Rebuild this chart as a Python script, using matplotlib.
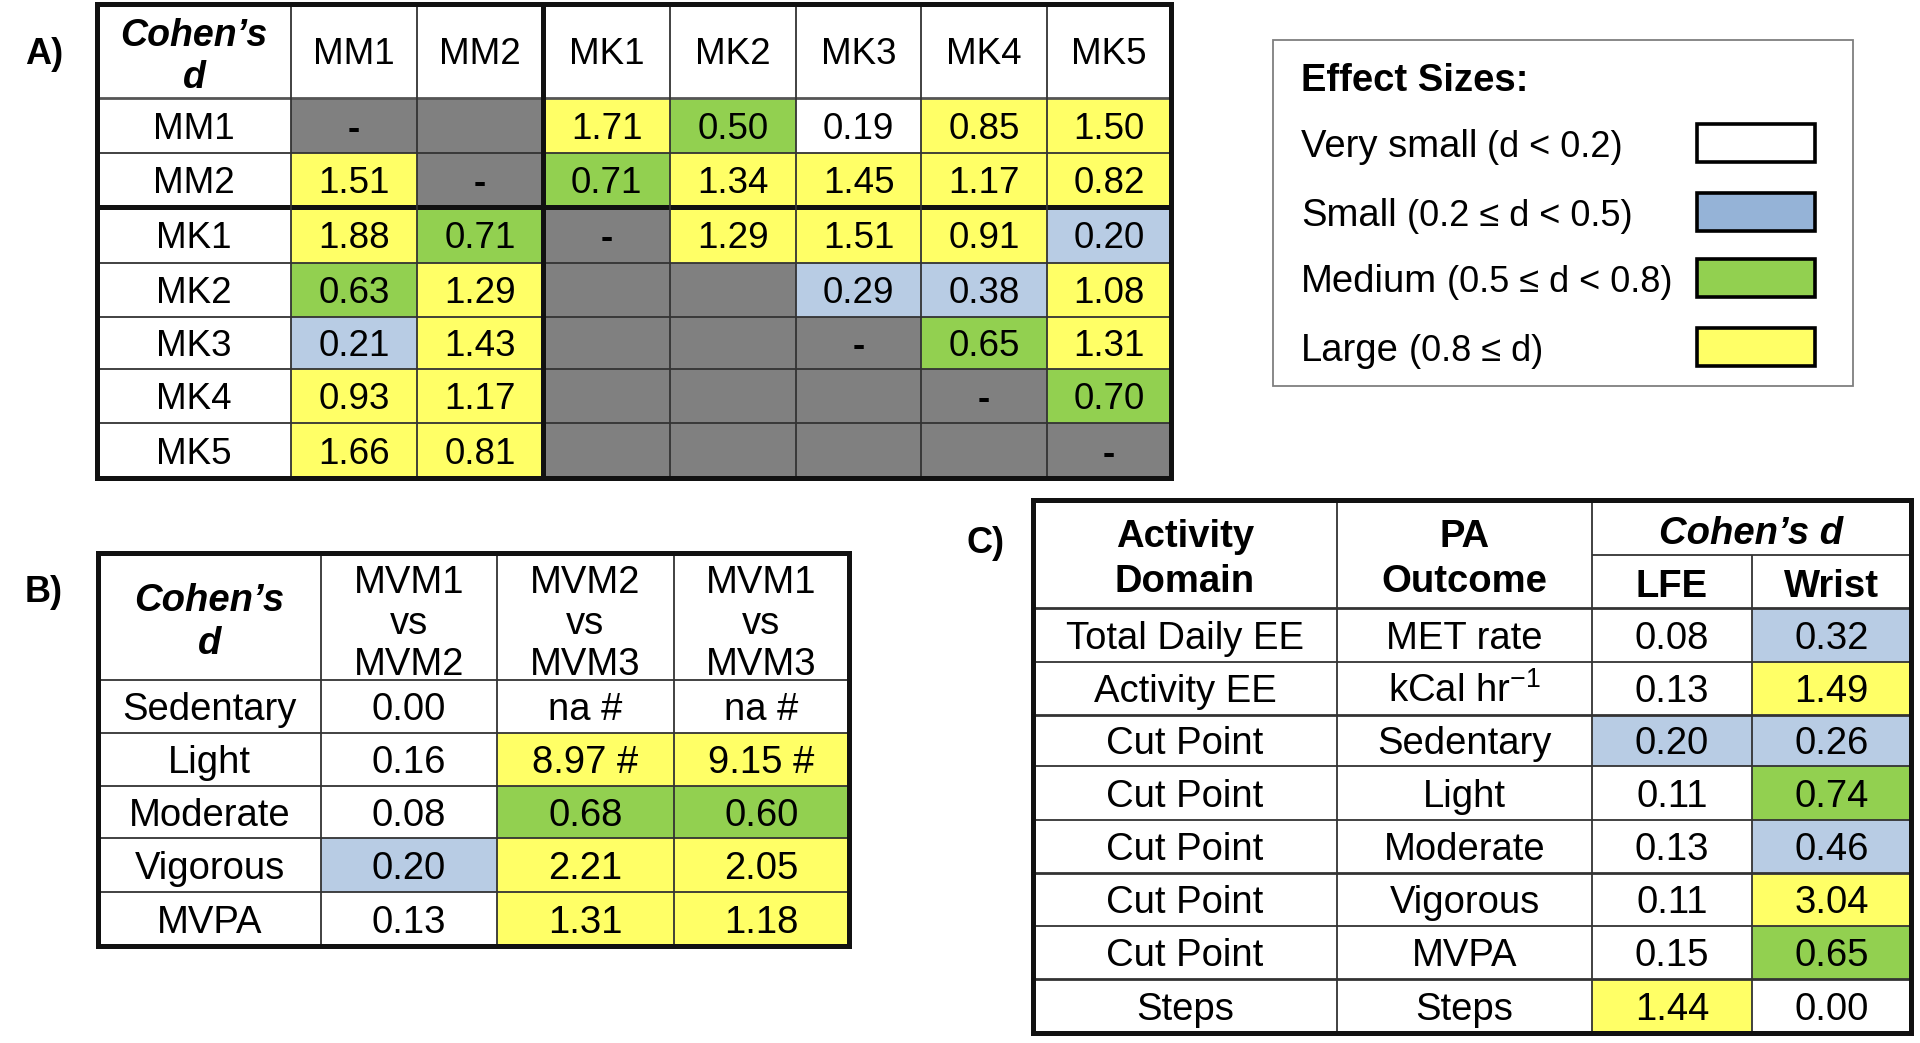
import matplotlib.pyplot as plt
from matplotlib.patches import Rectangle

plt.rcParams['font.family'] = ['Liberation Sans', 'DejaVu Sans']
plt.rcParams['mathtext.fontset'] = 'custom'
plt.rcParams['mathtext.rm'] = 'Liberation Sans'
plt.rcParams['mathtext.it'] = 'Liberation Sans:italic'
plt.rcParams['mathtext.bf'] = 'Liberation Sans:bold'

# ---- data ----
# A) pairwise Cohen's d between monitors (None = greyed out, '-' = diagonal)
a_names = ['MM1', 'MM2', 'MK1', 'MK2', 'MK3', 'MK4', 'MK5']
a_values = [
    ['-', None, '1.71', '0.50', '0.19', '0.85', '1.50'],
    ['1.51', '-', '0.71', '1.34', '1.45', '1.17', '0.82'],
    ['1.88', '0.71', '-', '1.29', '1.51', '0.91', '0.20'],
    ['0.63', '1.29', None, None, '0.29', '0.38', '1.08'],
    ['0.21', '1.43', None, None, '-', '0.65', '1.31'],
    ['0.93', '1.17', None, None, None, '-', '0.70'],
    ['1.66', '0.81', None, None, None, None, '-'],
]

# B) model comparisons
b_rows = ['Sedentary', 'Light', 'Moderate', 'Vigorous', 'MVPA']
b_cols = [['MVM1', 'vs', 'MVM2'], ['MVM2', 'vs', 'MVM3'], ['MVM1', 'vs', 'MVM3']]
b_values = [
    ['0.00', 'na #', 'na #'],
    ['0.16', '8.97 #', '9.15 #'],
    ['0.08', '0.68', '0.60'],
    ['0.20', '2.21', '2.05'],
    ['0.13', '1.31', '1.18'],
]

# C) LFE vs wrist
c_domain = ['Total Daily EE', 'Activity EE', 'Cut Point', 'Cut Point', 'Cut Point',
            'Cut Point', 'Cut Point', 'Steps']
c_outcome = ['MET rate', r'kCal hr$^{-1}$', 'Sedentary', 'Light', 'Moderate',
             'Vigorous', 'MVPA', 'Steps']
c_lfe = ['0.08', '0.13', '0.20', '0.11', '0.13', '0.11', '0.15', '1.44']
c_wrist = ['0.32', '1.49', '0.26', '0.74', '0.46', '3.04', '0.65', '0.00']

# legend
legend_names = ['Very small', 'Small', 'Medium', 'Large']
legend_ranges = ['(d < 0.2)', '(0.2 \u2264 d < 0.5)', '(0.5 \u2264 d < 0.8)', '(0.8 \u2264 d)']

# colours
YELLOW = '#FFFF66'
GREEN = '#92D050'
BLUE = '#B8CCE4'
GREY = '#808080'
legend_colours = ['white', '#95B3D7', GREEN, YELLOW]
LINE = '#333333'


def cell_colour(s):
    if s is None or s == '-':
        return GREY
    try:
        d = float(s.split()[0])
    except ValueError:
        return 'white'
    if d < 0.2:
        return 'white'
    if d < 0.5:
        return BLUE
    if d < 0.8:
        return GREEN
    return YELLOW


fig = plt.figure(figsize=(19.2, 10.43), dpi=100)
ax = fig.add_axes([0, 0, 1, 1])
ax.set_xlim(0, 1920)
ax.set_ylim(1043, 0)
ax.axis('off')


def put(x, y, s, size, **kw):
    # place text so that the cap height is centred on y
    em = size * 100 / 72
    ha = kw.pop('ha', 'center')
    return ax.text(x, y + 0.36 * em, s, fontsize=size, ha=ha, va='baseline', **kw)


def fill(x0, x1, y0, y1, c):
    ax.add_patch(Rectangle((x0, y0), x1 - x0, y1 - y0, facecolor=c, edgecolor='none', zorder=1))


def hline(y, x0, x1, lw, c=LINE):
    ax.plot([x0, x1], [y, y], color=c, lw=lw, solid_capstyle='butt', zorder=2)


def vline(x, y0, y1, lw, c=LINE):
    ax.plot([x, x], [y0, y1], color=c, lw=lw, solid_capstyle='butt', zorder=2)


def border(x0, x1, y0, y1, lw=3.6):
    ax.add_patch(Rectangle((x0, y0), x1 - x0, y1 - y0, fill=False, edgecolor='#111111',
                           lw=lw, joinstyle='miter', zorder=3))


# ---------------- table A ----------------
A_x = [97, 291, 417, 543, 670, 796, 921, 1047, 1171]
A_y = [4, 98, 153, 207, 263, 317, 369, 423, 478]
A_FS = 26.5

for i, row in enumerate(a_values):
    for j, v in enumerate(row):
        x0, x1 = A_x[j + 1], A_x[j + 2]
        y0, y1 = A_y[i + 1], A_y[i + 2]
        fill(x0, x1, y0, y1, cell_colour(v))
        if v == '-':
            put((x0 + x1) / 2, (y0 + y1) / 2, v, A_FS, fontweight='bold')
        elif v:
            put((x0 + x1) / 2, (y0 + y1) / 2, v, A_FS)

for k, name in enumerate(a_names):
    put((A_x[k + 1] + A_x[k + 2]) / 2, (A_y[0] + A_y[1]) / 2, name, A_FS)
    put((A_x[0] + A_x[1]) / 2, (A_y[k + 1] + A_y[k + 2]) / 2, name, A_FS)
put((A_x[0] + A_x[1]) / 2, 32, 'Cohen\u2019s', 27, fontweight='bold', style='italic')
put((A_x[0] + A_x[1]) / 2, 75, 'd', 27, fontweight='bold', style='italic')

for y in A_y[2:-1]:
    if y != 207:
        hline(y, A_x[0], A_x[-1], 1.3)
hline(A_y[1], A_x[0], A_x[-1], 2.0, '#555555')
hline(207, A_x[0], A_x[-1], 3.6, '#111111')
for x in A_x[1:-1]:
    if x != 543:
        vline(x, A_y[0], A_y[-1], 1.3)
vline(543, A_y[0], A_y[-1], 3.6, '#111111')
border(A_x[0], A_x[-1], A_y[0], A_y[-1])
put(25, 51, 'A)', 26, fontweight='bold', ha='left')

# ---------------- table B ----------------
B_x = [98, 321, 497, 674, 849]
B_y = [553, 680, 733, 786, 838, 892, 946]
B_FS = 27.5

for i, row in enumerate(b_values):
    y0, y1 = B_y[i + 1], B_y[i + 2]
    put((B_x[0] + B_x[1]) / 2, (y0 + y1) / 2, b_rows[i], B_FS)
    for j, v in enumerate(row):
        x0, x1 = B_x[j + 1], B_x[j + 2]
        fill(x0, x1, y0, y1, cell_colour(v))
        put((x0 + x1) / 2, (y0 + y1) / 2, v, B_FS)

for j, lines in enumerate(b_cols):
    xc = (B_x[j + 1] + B_x[j + 2]) / 2
    for k, s in enumerate(lines):
        put(xc, 579 + 41 * k, s, B_FS)
put((B_x[0] + B_x[1]) / 2, 597, 'Cohen\u2019s', B_FS, fontweight='bold', style='italic')
put((B_x[0] + B_x[1]) / 2, 640, 'd', B_FS, fontweight='bold', style='italic')

for y in B_y[1:-1]:
    hline(y, B_x[0], B_x[-1], 1.3)
for x in B_x[1:-1]:
    vline(x, B_y[0], B_y[-1], 1.3)
border(B_x[0], B_x[-1], B_y[0], B_y[-1])
put(25, 589, 'B)', 26, fontweight='bold', ha='left')

# ---------------- table C ----------------
C_x = [1033, 1337, 1592, 1752, 1911]
C_y = [500, 608, 662, 715, 766, 820, 873, 926, 979, 1033]
C_FS = 27.5

for i in range(len(c_domain)):
    y0, y1 = C_y[i + 1], C_y[i + 2]
    yc = (y0 + y1) / 2
    put((C_x[0] + C_x[1]) / 2, yc, c_domain[i], C_FS)
    put((C_x[1] + C_x[2]) / 2, yc, c_outcome[i], C_FS)
    for j, v in enumerate([c_lfe[i], c_wrist[i]]):
        x0, x1 = C_x[j + 2], C_x[j + 3]
        fill(x0, x1, y0, y1, cell_colour(v))
        put((x0 + x1) / 2, yc, v, C_FS)

put((C_x[0] + C_x[1]) / 2, 533, 'Activity', C_FS, fontweight='bold')
put((C_x[0] + C_x[1]) / 2, 578, 'Domain', C_FS, fontweight='bold')
put((C_x[1] + C_x[2]) / 2, 533, 'PA', C_FS, fontweight='bold')
put((C_x[1] + C_x[2]) / 2, 578, 'Outcome', C_FS, fontweight='bold')
put((C_x[2] + C_x[4]) / 2, 530, 'Cohen\u2019s d', C_FS, fontweight='bold', style='italic')
put((C_x[2] + C_x[3]) / 2, 583, 'LFE', C_FS, fontweight='bold')
put((C_x[3] + C_x[4]) / 2, 583, 'Wrist', C_FS, fontweight='bold')

hline(555, C_x[2], C_x[4], 1.3)
for y in C_y[1:-1]:
    hline(y, C_x[0], C_x[-1], 2.0 if y in (608, 715, 873, 979) else 1.3)
for x in C_x[1:-1]:
    vline(x, 555 if x == 1752 else C_y[0], C_y[-1], 1.3)
border(C_x[0], C_x[-1], C_y[0], C_y[-1])
put(966, 540, 'C)', 26, fontweight='bold', ha='left')

# ---------------- legend ----------------
ax.add_patch(Rectangle((1273, 40), 1853 - 1273, 386 - 40, fill=False,
                       edgecolor='#7f7f7f', lw=1.3, zorder=3))
put(1301, 77, 'Effect Sizes:', 27.5, fontweight='bold', ha='left')
leg_y = [143, 212, 278, 347]
for k, name in enumerate(legend_names):
    t = put(1301, leg_y[k], name, 27.5, ha='left')
    ax.annotate(' ' + legend_ranges[k], xy=(1, 0), xycoords=t, fontsize=26,
                ha='left', va='bottom')
    ax.add_patch(Rectangle((1697, leg_y[k] - 19), 118, 38, facecolor=legend_colours[k],
                           edgecolor='black', lw=2.6, zorder=3))

fig.savefig('out.png', dpi=100)
